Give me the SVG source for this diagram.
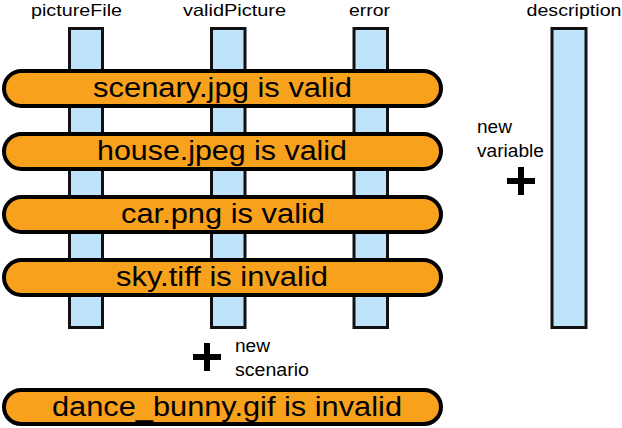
<svg xmlns="http://www.w3.org/2000/svg" width="622" height="428" viewBox="0 0 622 428">
<style>
.col{fill:#bfe3fa;stroke:#111;stroke-width:3}
.bar{fill:#f8a11c;stroke:#000;stroke-width:4}
.bt{font-family:"Liberation Sans",Arial,sans-serif;font-size:27px;fill:#000;text-anchor:middle}
.lb{font-family:"Liberation Sans",Arial,sans-serif;font-size:16.5px;fill:#000;text-anchor:middle}
.nt{font-family:"Liberation Sans",Arial,sans-serif;font-size:17.5px;fill:#000}
.plus{stroke:#000;stroke-width:6;fill:none}
</style>
<rect width="622" height="428" fill="#fff"/>
<g id="columns">
  <g id="col-pictureFile">
    <rect class="col" x="69.5" y="28.5" width="33" height="299"/>
    <text class="lb" x="76.5" y="15.5" textLength="91" lengthAdjust="spacingAndGlyphs">pictureFile</text>
  </g>
  <g id="col-validPicture">
    <rect class="col" x="211.5" y="28.5" width="33.5" height="299"/>
    <text class="lb" x="234.5" y="15.5" textLength="103" lengthAdjust="spacingAndGlyphs">validPicture</text>
  </g>
  <g id="col-error">
    <rect class="col" x="354" y="28.5" width="33.5" height="299"/>
    <text class="lb" x="369.5" y="15.5" textLength="41" lengthAdjust="spacingAndGlyphs">error</text>
  </g>
  <g id="col-description">
    <rect class="col" x="552" y="28.5" width="34" height="299"/>
    <text class="lb" x="574" y="15.5" textLength="95" lengthAdjust="spacingAndGlyphs">description</text>
  </g>
</g>
<g id="connectors"></g>
<g id="scenarios">
  <g id="sc-scenary">
    <rect class="bar" x="4" y="71" width="437" height="35" rx="17.5"/>
    <text class="bt" x="222.5" y="97" textLength="259" lengthAdjust="spacingAndGlyphs">scenary.jpg is valid</text>
  </g>
  <g id="sc-house">
    <rect class="bar" x="4" y="134" width="437" height="35" rx="17.5"/>
    <text class="bt" x="222" y="160" textLength="250" lengthAdjust="spacingAndGlyphs">house.jpeg is valid</text>
  </g>
  <g id="sc-car">
    <rect class="bar" x="4" y="197" width="437" height="35" rx="17.5"/>
    <text class="bt" x="223" y="223" textLength="204" lengthAdjust="spacingAndGlyphs">car.png is valid</text>
  </g>
  <g id="sc-sky">
    <rect class="bar" x="4" y="260" width="437" height="35" rx="17.5"/>
    <text class="bt" x="222" y="286" textLength="212" lengthAdjust="spacingAndGlyphs">sky.tiff is invalid</text>
  </g>
  <g id="sc-bunny">
    <rect class="bar" x="4" y="390" width="437" height="34" rx="17"/>
    <text class="bt" x="227" y="416" textLength="350" lengthAdjust="spacingAndGlyphs">dance_bunny.gif is invalid</text>
  </g>
</g>
<g id="new-variable">
  <text class="nt" x="477" y="133" textLength="35" lengthAdjust="spacingAndGlyphs">new</text>
  <text class="nt" x="477" y="156.5" textLength="67" lengthAdjust="spacingAndGlyphs">variable</text>
  <path class="plus" d="M507 181H535M521 167V195"/>
</g>
<g id="new-scenario">
  <text class="nt" x="235" y="352" textLength="35" lengthAdjust="spacingAndGlyphs">new</text>
  <text class="nt" x="235" y="376" textLength="74" lengthAdjust="spacingAndGlyphs">scenario</text>
  <path class="plus" d="M193 357H221M207 343V371"/>
</g>
</svg>
